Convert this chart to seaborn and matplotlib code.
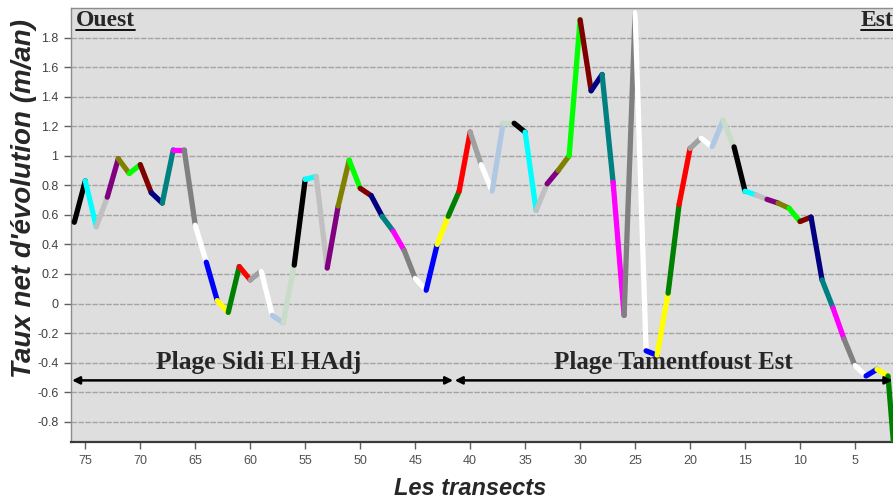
import numpy as np
import pandas as pd
import matplotlib
matplotlib.use('Agg')
import matplotlib.pyplot as plt
from matplotlib.lines import Line2D
import seaborn as sns

# Transects numbered from west (76) to east (1)
transects = list(range(76, 0, -1))

# Net shoreline change rate (m/an)
taux = [
    0.55, 0.83, 0.52, 0.72, 0.98, 0.88, 0.94, 0.75, 0.68, 1.04,   # 76-67
    1.04, 0.53, 0.28, 0.02, -0.06, 0.25, 0.16, 0.22, -0.08, -0.13,  # 66-57
    0.26, 0.84, 0.86, 0.24, 0.66, 0.97, 0.78, 0.73, 0.59, 0.49,    # 56-47
    0.36, 0.17, 0.09, 0.40, 0.59, 0.76, 1.16, 0.94, 0.76, 1.22,    # 46-37
    1.22, 1.16, 0.63, 0.81, 0.90, 1.00, 1.92, 1.44, 1.55, 0.82,    # 36-27
    -0.08, 1.97, -0.32, -0.35, 0.07, 0.67, 1.05, 1.12, 1.06, 1.24,  # 26-17
    1.06, 0.76, 0.735, 0.705, 0.68, 0.645, 0.555, 0.585, 0.16, -0.03,  # 16-7
    -0.24, -0.42, -0.49, -0.445, -0.49, -1.40,                     # 6-1
]

yticks = [-0.8, -0.6, -0.4, -0.2, 0, 0.2, 0.4, 0.6, 0.8, 1.0, 1.2, 1.4, 1.6, 1.8]
xticks = [75, 70, 65, 60, 55, 50, 45, 40, 35, 30, 25, 20, 15, 10, 5]

plages = ['Plage Sidi El HAdj', 'Plage Tamentfoust Est']

# colour cycle used for the segments between consecutive transects
seg_cycle = ['#000000', '#00ffff', '#c0c0c0', '#800080', '#808000', '#00ff00',
             '#800000', '#000080', '#008080', '#ff00ff', '#808080', '#ffffff',
             '#0000ff', '#ffff00', '#008000', '#ff0000', '#a0a0a0', '#ffffff',
             '#b0c8e4', '#c8dcc8']

rows = []
for i in range(len(transects) - 1):
    rows.append({'transect': transects[i], 'taux': taux[i], 'seg': i})
    rows.append({'transect': transects[i + 1], 'taux': taux[i + 1], 'seg': i})
df = pd.DataFrame(rows)
palette = {i: seg_cycle[i % len(seg_cycle)] for i in df['seg'].unique()}

sns.set_style("white")
plt.rcParams['axes.unicode_minus'] = False

W, H = 893, 503
fig = plt.figure(figsize=(W / 100, H / 100), dpi=100)
ax = fig.add_axes([71 / W, 1 - 442 / H, 840 / W, 434 / H])
ax.set_facecolor('#dedede')

sns.lineplot(data=df, x='transect', y='taux', hue='seg', palette=palette,
             estimator=None, sort=False, legend=False, linewidth=3.8,
             solid_capstyle='round', ax=ax, zorder=3)

ax.set_xlim(76.3, 75 - (911 - 85) / 11)
ax.set_ylim(-0.937, 2.0)

ax.set_yticks(yticks)
ax.set_yticklabels([f'{v:g}' for v in yticks], fontsize=9, color='#404040',
                   family='Liberation Sans')
ax.set_xticks(xticks)
ax.set_xticklabels([str(v) for v in xticks], fontsize=9, color='#505050',
                   family='Liberation Sans')
ax.tick_params(axis='both', direction='out', length=5, width=1, color='#606060',
               left=True, bottom=True, pad=4)

ax.yaxis.grid(True, color='#a4a4a4', linestyle=(0, (4, 1)), linewidth=1.0)
ax.set_axisbelow(True)

for side in ['left', 'top']:
    ax.spines[side].set_color('#8c8c8c')
    ax.spines[side].set_linewidth(1.0)
ax.spines['bottom'].set_color('#3a3a3a')
ax.spines['bottom'].set_linewidth(1.6)
ax.spines['right'].set_visible(False)

ax.set_ylabel("Taux net d'évolution (m/an)", fontsize=20, fontweight='bold',
              fontstyle='italic', family='Liberation Sans')
ax.yaxis.set_label_coords(-0.041, 0.562)
ax.set_xlabel('Les transects', fontsize=17, fontweight='bold',
              fontstyle='italic', family='Liberation Sans')
ax.xaxis.set_label_coords(0.475, -0.080)

# beach extents
arrow_kw = dict(arrowstyle='<|-|>', color='black', lw=1.8, mutation_scale=11,
                shrinkA=0, shrinkB=0)
ax.annotate('', xy=(76.2, -0.52), xytext=(41.55, -0.52), arrowprops=arrow_kw,
            zorder=4)
ax.annotate('', xy=(41.4, -0.52), xytext=(1.6, -0.52), arrowprops=arrow_kw,
            zorder=4)
ax.text(59.2, -0.40, plages[0], ha='center', va='center', fontsize=18.3,
        fontweight='bold', family='Liberation Serif', zorder=5)
ax.text(21.5, -0.40, plages[1], ha='center', va='center', fontsize=18,
        fontweight='bold', family='Liberation Serif', zorder=5)

# underlined side labels
side_texts = []
for label, xpx in [('Ouest', 76), ('Est', 861)]:
    t = fig.text(xpx / W, 1 - 26 / H, label, ha='left', va='baseline',
                 fontsize=17, fontweight='bold', family='Liberation Serif')
    side_texts.append(t)

fig.canvas.draw()
renderer = fig.canvas.get_renderer()
for t in side_texts:
    bb = t.get_window_extent(renderer).transformed(fig.transFigure.inverted())
    fig.add_artist(Line2D([bb.x0, bb.x1], [1 - 30 / H, 1 - 30 / H],
                          transform=fig.transFigure, color='black', lw=1.3))

fig.savefig('out.png', dpi=100)
